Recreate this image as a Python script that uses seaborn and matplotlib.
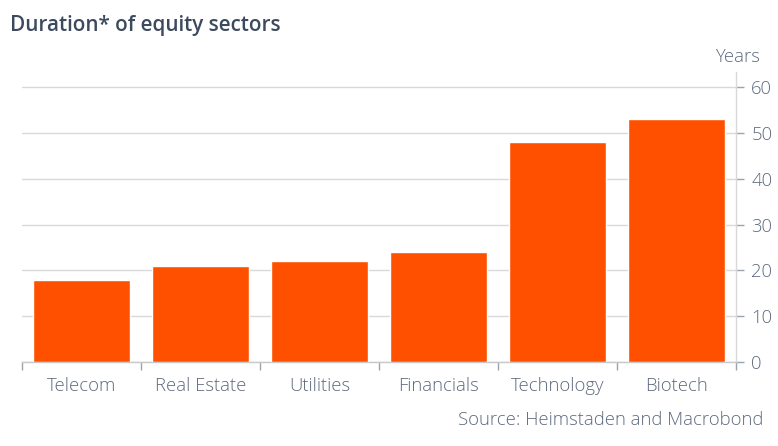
import matplotlib
matplotlib.use("Agg")
import matplotlib.pyplot as plt
import seaborn as sns
import pandas as pd
import numpy as np

categories = ["Telecom", "Real Estate", "Utilities", "Financials", "Technology", "Biotech"]
values = [18, 21, 22, 24, 48, 53]
yticks = [0, 10, 20, 30, 40, 50, 60]

sns.set_style("white")
plt.rcParams['font.family'] = ['Open Sans', 'DejaVu Sans']
plt.rcParams['font.weight'] = 'light'

df = pd.DataFrame({"sector": categories, "years": values})

fig = plt.figure(figsize=(7.78, 4.46), dpi=100)
ax = fig.add_axes([22/778, 1-362/446, (736-22)/778, (362-72)/446])

sns.barplot(data=df, x="sector", y="years", color="#FF5000", saturation=1,
            width=0.81, ax=ax, zorder=3)

text_col = "#5e6a7e"
grid_col = "#d9d9d9"
fs = 13.3

ax.set_xlim(-0.5, len(categories) - 0.5)
ax.set_ylim(0, 63.3)
ax.set_yticks(yticks)
ax.yaxis.tick_right()
ax.yaxis.grid(True, color=grid_col, linewidth=1, zorder=0)
ax.set_axisbelow(True)

for s in ["top", "left"]:
    ax.spines[s].set_visible(False)
ax.spines["right"].set_color(grid_col)
ax.spines["bottom"].set_color("#c8c8c8")
ax.spines["right"].set_linewidth(1)
ax.spines["bottom"].set_linewidth(1)

ax.tick_params(axis="y", which="major", right=True, length=6, width=1, color="#9aa3b0",
               labelsize=fs, labelcolor=text_col, pad=5)
ax.tick_params(axis="x", which="major", length=0, labelsize=fs, labelcolor=text_col, pad=11)
ax.set_xticks(np.arange(-0.5, len(categories), 1.0), minor=True)
ax.tick_params(axis="x", which="minor", length=6, width=1, color="#9aa3b0", bottom=True)

ax.set_xlabel("")
ax.set_ylabel("")

fig.text(10/778, 1-26/446, "Duration* of equity sectors", fontsize=14.9, fontweight="semibold",
         color="#3d4a5e", ha="left", va="center")
fig.text(760/778, 1-57/446, "Years", fontsize=fs, color=text_col, ha="right", va="center")
fig.text(763/778, 1-420/446, "Source: Heimstaden and Macrobond", fontsize=fs, color=text_col,
         ha="right", va="center")

fig.savefig("out.png", dpi=100)
